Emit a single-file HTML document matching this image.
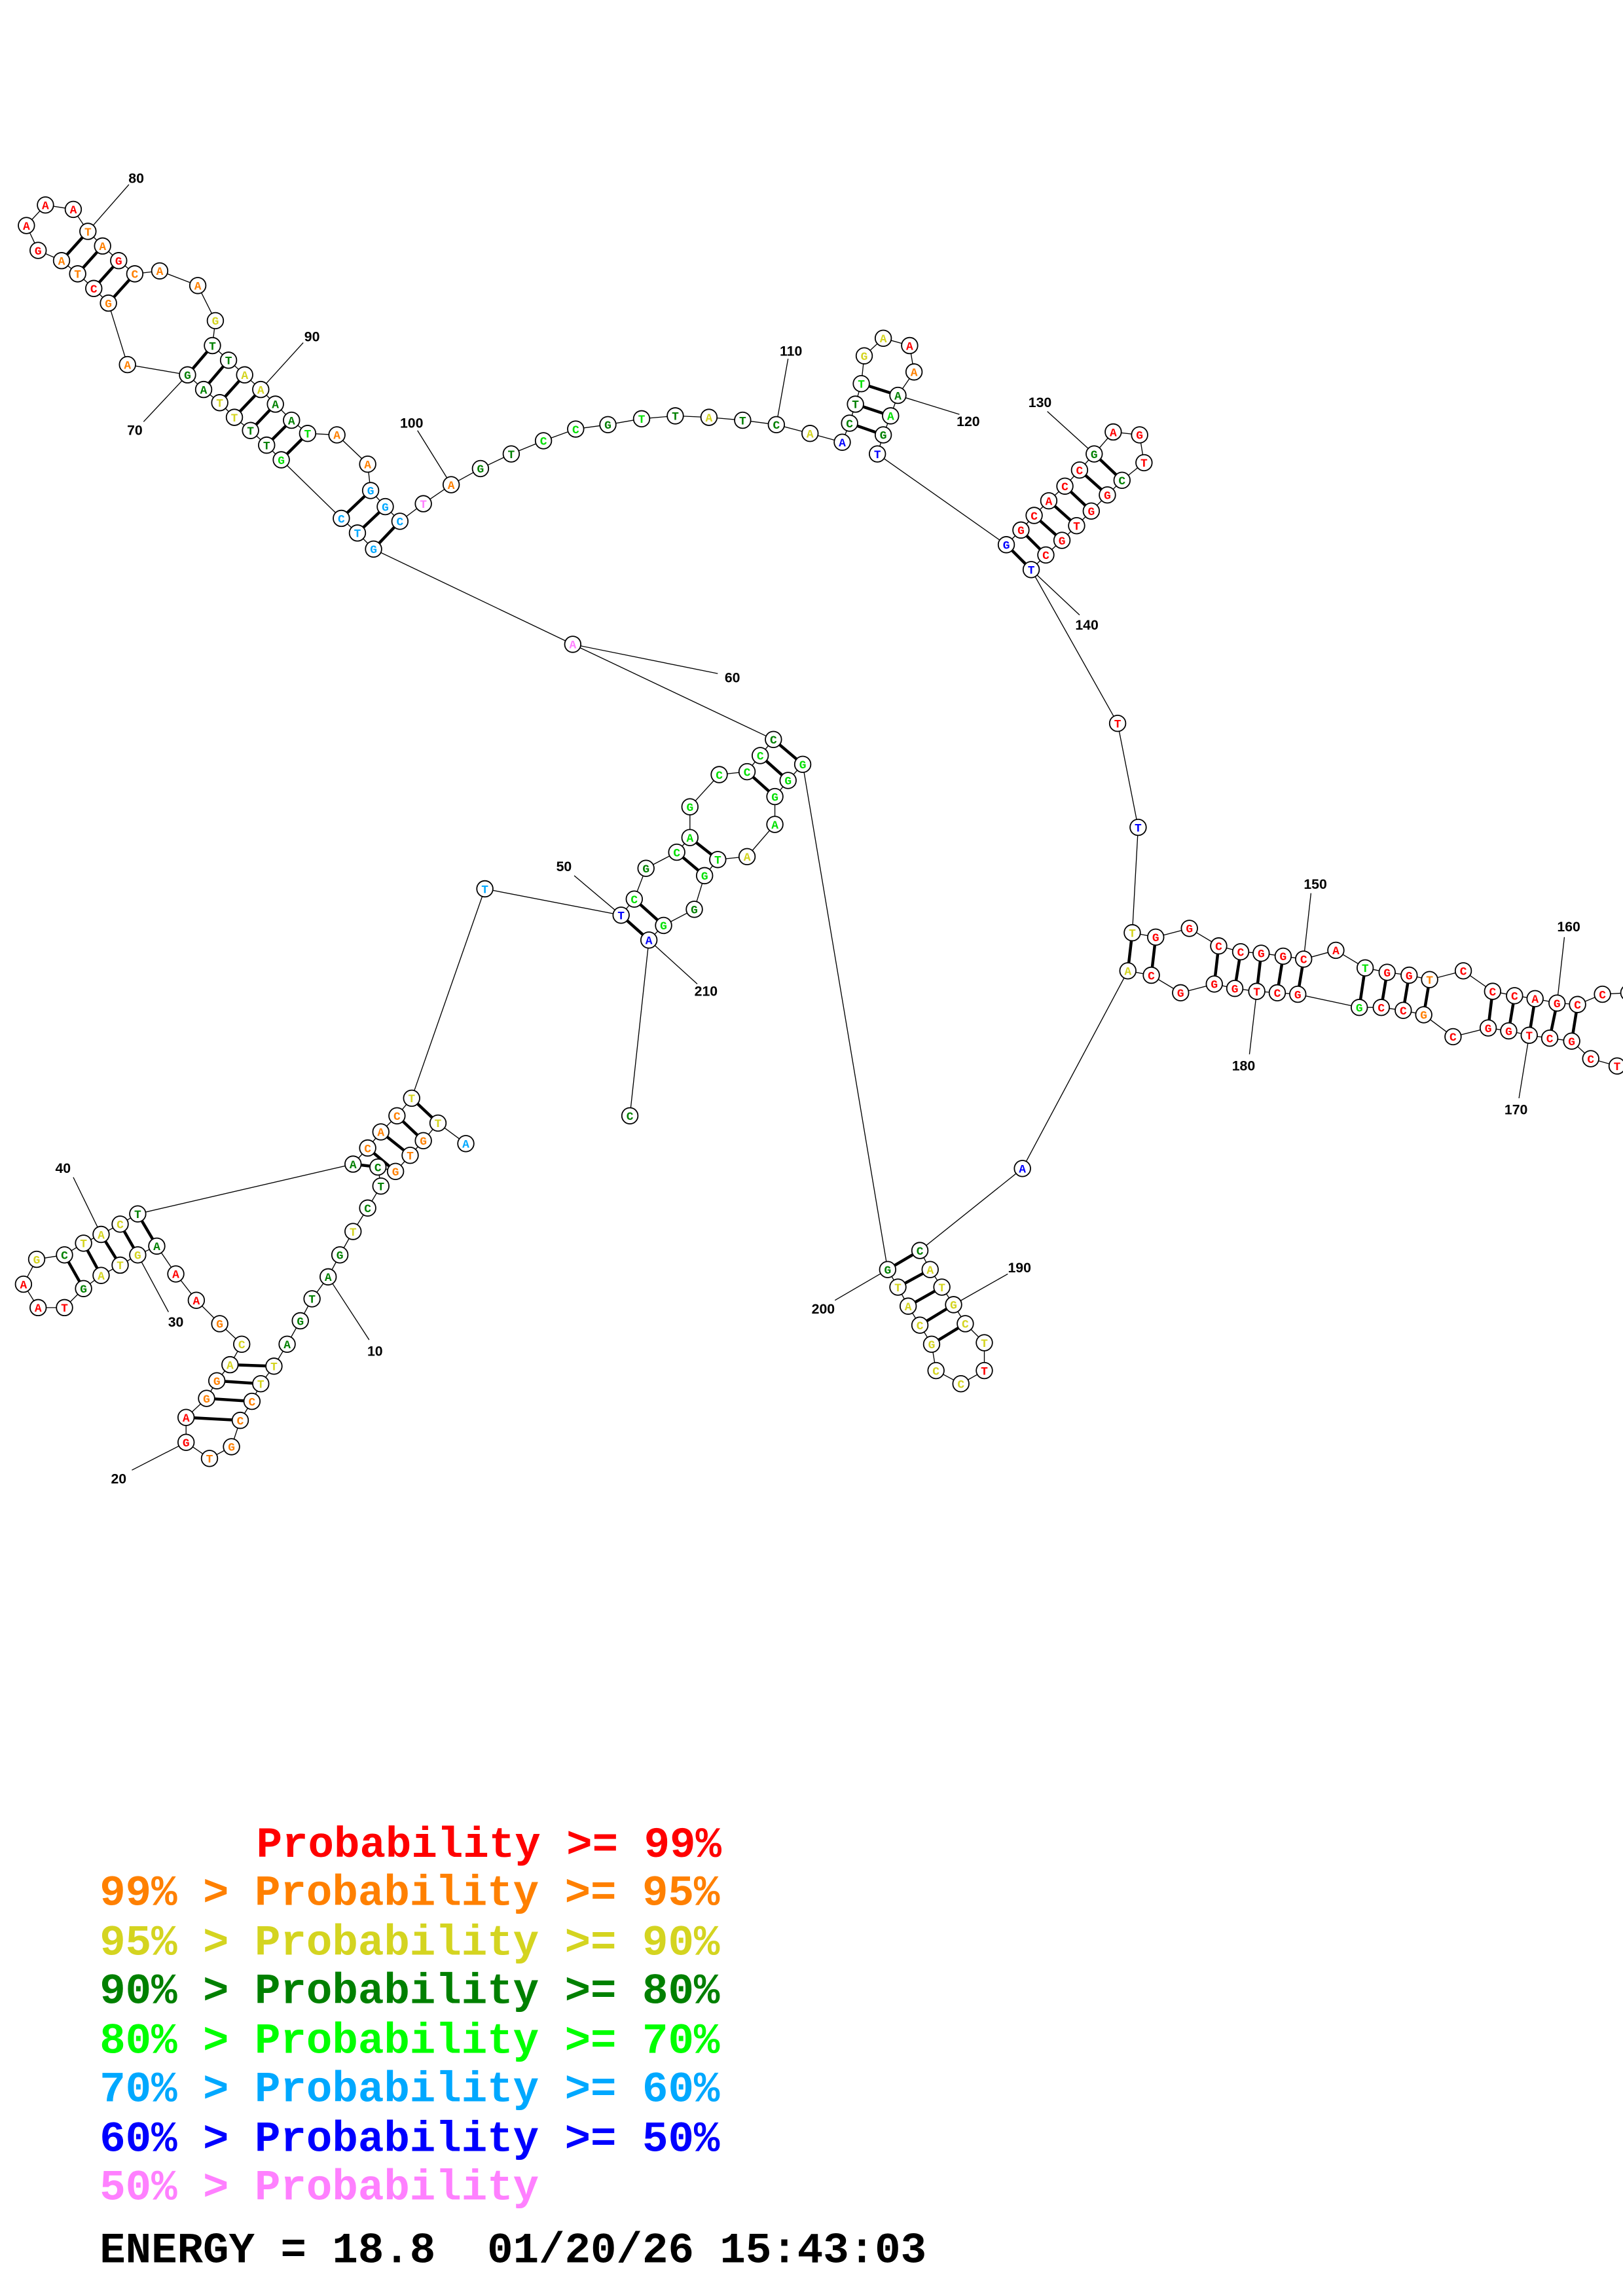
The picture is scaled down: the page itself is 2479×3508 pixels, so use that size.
<!DOCTYPE html>
<html><head><meta charset="utf-8"><style>
html,body{margin:0;padding:0;background:#fff;}
svg{display:block}
.n circle{fill:#fff;stroke:#000;stroke-width:.8}
.n text{font-family:"Liberation Mono",monospace;font-weight:bold;font-size:8px;text-anchor:middle}
.R{fill:#ff0000}.O{fill:#ff8000}.Y{fill:#d4d420}.D{fill:#008000}.L{fill:#00e000}.C{fill:#00a8ff}.B{fill:#0000ff}.P{fill:#ff80ff}
.lab{font-family:"Liberation Sans",sans-serif;font-weight:bold;font-size:9.5px;text-anchor:middle}
.lg{font-family:"Liberation Mono",monospace;font-weight:bold;font-size:29.4px}
</style></head><body>
<svg width="2479" height="3508" viewBox="0 0 1108 1568" xmlns="http://www.w3.org/2000/svg">
<rect width="1108" height="1568" fill="#fff"/>
<polyline fill="none" stroke="#000" stroke-width=".6" points="318,781 299,767 289,779 280,789 270,800 258,797 260,810 251,825 241,841 232,857 224,872 213,887 205,902 196,918 187,933 178,945 172,957 164,970 158,988 143,996 127,985 127,968 141,955 148,943 157,932 165,918 150,904 134,888 120,870 107,851 94,857 82,864 69,871 57,880 44,893 26,893 16,877 25,860 44,857 57,849 69,843 82,836 94,829 241,795 251,784 260,773 271,762 281,750 331,607 424,625 433,614 441,593 462,582 471,572 471,551 491,529 510,527 519,516 528,505 391,440 255,375 244,364 233,354 192,314 182,304 171,294 160,285 150,275 139,266 128,256 87,249 74,207 64,197 53,187 42,178 26,171 18,154 31,140 50,143 60,158 70,168 81,178 92,187 109,185 135,195 147,219 145,236 156,246 167,256 178,266 188,276 199,287 210,296 230,297 251,317 253,335 263,346 273,356 289,344 308,331 328,320 349,310 371,301 393,293 415,290 438,286 461,284 484,285 507,287 530,290 553,296 575,302 580,289 584,276 588,262 590,243 603,231 621,236 624,254 613,270 608,284 603,297 599,310 687,372 697,362 706,352 716,342 727,332 737,321 747,310 760,295 778,297 781,316 766,328 756,338 745,349 735,359 725,369 714,379 704,389 763,494 777,565 773,637 789,640 812,634 832,646 847,650 861,651 876,653 890,655 912,649 932,661 947,664 962,666 976,669 999,663 1019,677 1034,680 1048,682 1063,685 1077,686 1094,679 1112,678"/>
<polyline fill="none" stroke="#000" stroke-width=".6" points="1112,730 1104,728 1086,723 1073,711 1058,709 1044,707 1030,704 1016,702 992,708 972,693 958,690 943,688 928,688 886,679 872,678 858,677 843,675 829,672 806,678 786,666 770,663 698,798 628,854 635,867 643,879 651,891 659,904 672,917 672,936 656,945 639,936 636,918 628,905 620,892 613,879 606,867 548,522 538,533 529,544 529,563 510,585 490,587 481,598 474,621 453,632 443,642 430,762"/>
<g stroke="#000" stroke-width="2">
<path d="M60 158L42 178M70 168L53 187M81 178L64 197M92 187L74 207M145 236L128 256M156 246L139 266M167 256L150 275M178 266L160 285M188 276L171 294M199 287L182 304M210 296L192 314M253 335L233 354M263 346L244 364M273 356L255 375M580 289L603 297M584 276L608 284M588 262L613 270M687 372L704 389M697 362L714 379M706 352L725 369M716 342L735 359M727 332L745 349M737 321L756 338M747 310L766 328M773 637L770 663M789 640L786 666M832 646L829 672M847 650L843 675M861 651L858 677M876 653L872 678M890 655L886 679M932 661L928 688M947 664L943 688M962 666L958 690M976 669L972 693M1019 677L1016 702M1034 680L1030 704M1048 682L1044 707M1063 685L1058 709M1077 686L1073 711M628 854L606 867M635 867L613 879M643 879L620 892M651 891L628 905M659 904L636 918M528 505L548 522M519 516L538 533M510 527L529 544M471 572L490 587M462 582L481 598M433 614L453 632M424 625L443 642M281 750L299 767M271 762L289 779M260 773L280 789M251 784L270 800M241 795L258 797M94 829L107 851M82 836L94 857M69 843L82 864M57 849L69 871M44 857L57 880M157 932L187 933M148 943L178 945M141 955L172 957M127 968L164 970"/>
</g>
<g stroke="#000" stroke-width=".6">
<path d="M60 158L88 126M178 266L207 234M128 256L98 288M308 331L285 294M530 290L538 245M613 270L655 283M747 310L715 281M704 389L737 420M391 440L490 460M890 655L895 610M1063 685L1068 640M1044 707L1037 750M858 677L853 720M651 891L688 870M606 867L570 888M443 642L476 672M424 625L392 598M69 843L50 804M94 857L115 896M127 985L90 1004M224 872L252 915"/>
</g>
<g class="lab">
<text x="93" y="125">80</text><text x="213" y="233">90</text><text x="92" y="297">70</text><text x="281" y="292">100</text><text x="540" y="243">110</text><text x="661" y="291">120</text><text x="710" y="278">130</text><text x="742" y="430">140</text><text x="500" y="466">60</text><text x="898" y="607">150</text><text x="1071" y="636">160</text><text x="1035" y="761">170</text><text x="849" y="731">180</text><text x="696" y="869">190</text><text x="562" y="897">200</text><text x="482" y="680">210</text><text x="385" y="595">50</text><text x="43" y="801">40</text><text x="120" y="906">30</text><text x="81" y="1013">20</text><text x="256" y="926">10</text>
</g>
<g class="n">
<g transform="translate(318,781)"><circle r="5.5"/><text y="2.8" class="C">A</text></g>
<g transform="translate(299,767)"><circle r="5.5"/><text y="2.8" class="Y">T</text></g>
<g transform="translate(289,779)"><circle r="5.5"/><text y="2.8" class="O">G</text></g>
<g transform="translate(280,789)"><circle r="5.5"/><text y="2.8" class="O">T</text></g>
<g transform="translate(270,800)"><circle r="5.5"/><text y="2.8" class="O">G</text></g>
<g transform="translate(258,797)"><circle r="5.5"/><text y="2.8" class="D">C</text></g>
<g transform="translate(260,810)"><circle r="5.5"/><text y="2.8" class="D">T</text></g>
<g transform="translate(251,825)"><circle r="5.5"/><text y="2.8" class="D">C</text></g>
<g transform="translate(241,841)"><circle r="5.5"/><text y="2.8" class="Y">T</text></g>
<g transform="translate(232,857)"><circle r="5.5"/><text y="2.8" class="D">G</text></g>
<g transform="translate(224,872)"><circle r="5.5"/><text y="2.8" class="D">A</text></g>
<g transform="translate(213,887)"><circle r="5.5"/><text y="2.8" class="D">T</text></g>
<g transform="translate(205,902)"><circle r="5.5"/><text y="2.8" class="D">G</text></g>
<g transform="translate(196,918)"><circle r="5.5"/><text y="2.8" class="D">A</text></g>
<g transform="translate(187,933)"><circle r="5.5"/><text y="2.8" class="Y">T</text></g>
<g transform="translate(178,945)"><circle r="5.5"/><text y="2.8" class="Y">T</text></g>
<g transform="translate(172,957)"><circle r="5.5"/><text y="2.8" class="O">C</text></g>
<g transform="translate(164,970)"><circle r="5.5"/><text y="2.8" class="O">C</text></g>
<g transform="translate(158,988)"><circle r="5.5"/><text y="2.8" class="O">G</text></g>
<g transform="translate(143,996)"><circle r="5.5"/><text y="2.8" class="O">T</text></g>
<g transform="translate(127,985)"><circle r="5.5"/><text y="2.8" class="R">G</text></g>
<g transform="translate(127,968)"><circle r="5.5"/><text y="2.8" class="R">A</text></g>
<g transform="translate(141,955)"><circle r="5.5"/><text y="2.8" class="O">G</text></g>
<g transform="translate(148,943)"><circle r="5.5"/><text y="2.8" class="O">G</text></g>
<g transform="translate(157,932)"><circle r="5.5"/><text y="2.8" class="Y">A</text></g>
<g transform="translate(165,918)"><circle r="5.5"/><text y="2.8" class="Y">C</text></g>
<g transform="translate(150,904)"><circle r="5.5"/><text y="2.8" class="O">G</text></g>
<g transform="translate(134,888)"><circle r="5.5"/><text y="2.8" class="R">A</text></g>
<g transform="translate(120,870)"><circle r="5.5"/><text y="2.8" class="R">A</text></g>
<g transform="translate(107,851)"><circle r="5.5"/><text y="2.8" class="D">A</text></g>
<g transform="translate(94,857)"><circle r="5.5"/><text y="2.8" class="Y">G</text></g>
<g transform="translate(82,864)"><circle r="5.5"/><text y="2.8" class="Y">T</text></g>
<g transform="translate(69,871)"><circle r="5.5"/><text y="2.8" class="Y">A</text></g>
<g transform="translate(57,880)"><circle r="5.5"/><text y="2.8" class="D">G</text></g>
<g transform="translate(44,893)"><circle r="5.5"/><text y="2.8" class="R">T</text></g>
<g transform="translate(26,893)"><circle r="5.5"/><text y="2.8" class="R">A</text></g>
<g transform="translate(16,877)"><circle r="5.5"/><text y="2.8" class="R">A</text></g>
<g transform="translate(25,860)"><circle r="5.5"/><text y="2.8" class="Y">G</text></g>
<g transform="translate(44,857)"><circle r="5.5"/><text y="2.8" class="D">C</text></g>
<g transform="translate(57,849)"><circle r="5.5"/><text y="2.8" class="Y">T</text></g>
<g transform="translate(69,843)"><circle r="5.5"/><text y="2.8" class="Y">A</text></g>
<g transform="translate(82,836)"><circle r="5.5"/><text y="2.8" class="Y">C</text></g>
<g transform="translate(94,829)"><circle r="5.5"/><text y="2.8" class="D">T</text></g>
<g transform="translate(241,795)"><circle r="5.5"/><text y="2.8" class="D">A</text></g>
<g transform="translate(251,784)"><circle r="5.5"/><text y="2.8" class="O">C</text></g>
<g transform="translate(260,773)"><circle r="5.5"/><text y="2.8" class="O">A</text></g>
<g transform="translate(271,762)"><circle r="5.5"/><text y="2.8" class="O">C</text></g>
<g transform="translate(281,750)"><circle r="5.5"/><text y="2.8" class="Y">T</text></g>
<g transform="translate(331,607)"><circle r="5.5"/><text y="2.8" class="C">T</text></g>
<g transform="translate(424,625)"><circle r="5.5"/><text y="2.8" class="B">T</text></g>
<g transform="translate(433,614)"><circle r="5.5"/><text y="2.8" class="L">C</text></g>
<g transform="translate(441,593)"><circle r="5.5"/><text y="2.8" class="D">G</text></g>
<g transform="translate(462,582)"><circle r="5.5"/><text y="2.8" class="L">C</text></g>
<g transform="translate(471,572)"><circle r="5.5"/><text y="2.8" class="L">A</text></g>
<g transform="translate(471,551)"><circle r="5.5"/><text y="2.8" class="L">G</text></g>
<g transform="translate(491,529)"><circle r="5.5"/><text y="2.8" class="L">C</text></g>
<g transform="translate(510,527)"><circle r="5.5"/><text y="2.8" class="L">C</text></g>
<g transform="translate(519,516)"><circle r="5.5"/><text y="2.8" class="L">C</text></g>
<g transform="translate(528,505)"><circle r="5.5"/><text y="2.8" class="D">C</text></g>
<g transform="translate(391,440)"><circle r="5.5"/><text y="2.8" class="P">A</text></g>
<g transform="translate(255,375)"><circle r="5.5"/><text y="2.8" class="C">G</text></g>
<g transform="translate(244,364)"><circle r="5.5"/><text y="2.8" class="C">T</text></g>
<g transform="translate(233,354)"><circle r="5.5"/><text y="2.8" class="C">C</text></g>
<g transform="translate(192,314)"><circle r="5.5"/><text y="2.8" class="L">G</text></g>
<g transform="translate(182,304)"><circle r="5.5"/><text y="2.8" class="D">T</text></g>
<g transform="translate(171,294)"><circle r="5.5"/><text y="2.8" class="D">T</text></g>
<g transform="translate(160,285)"><circle r="5.5"/><text y="2.8" class="Y">T</text></g>
<g transform="translate(150,275)"><circle r="5.5"/><text y="2.8" class="Y">T</text></g>
<g transform="translate(139,266)"><circle r="5.5"/><text y="2.8" class="D">A</text></g>
<g transform="translate(128,256)"><circle r="5.5"/><text y="2.8" class="D">G</text></g>
<g transform="translate(87,249)"><circle r="5.5"/><text y="2.8" class="O">A</text></g>
<g transform="translate(74,207)"><circle r="5.5"/><text y="2.8" class="O">G</text></g>
<g transform="translate(64,197)"><circle r="5.5"/><text y="2.8" class="R">C</text></g>
<g transform="translate(53,187)"><circle r="5.5"/><text y="2.8" class="O">T</text></g>
<g transform="translate(42,178)"><circle r="5.5"/><text y="2.8" class="O">A</text></g>
<g transform="translate(26,171)"><circle r="5.5"/><text y="2.8" class="R">G</text></g>
<g transform="translate(18,154)"><circle r="5.5"/><text y="2.8" class="R">A</text></g>
<g transform="translate(31,140)"><circle r="5.5"/><text y="2.8" class="R">A</text></g>
<g transform="translate(50,143)"><circle r="5.5"/><text y="2.8" class="R">A</text></g>
<g transform="translate(60,158)"><circle r="5.5"/><text y="2.8" class="O">T</text></g>
<g transform="translate(70,168)"><circle r="5.5"/><text y="2.8" class="O">A</text></g>
<g transform="translate(81,178)"><circle r="5.5"/><text y="2.8" class="R">G</text></g>
<g transform="translate(92,187)"><circle r="5.5"/><text y="2.8" class="O">C</text></g>
<g transform="translate(109,185)"><circle r="5.5"/><text y="2.8" class="O">A</text></g>
<g transform="translate(135,195)"><circle r="5.5"/><text y="2.8" class="O">A</text></g>
<g transform="translate(147,219)"><circle r="5.5"/><text y="2.8" class="Y">G</text></g>
<g transform="translate(145,236)"><circle r="5.5"/><text y="2.8" class="D">T</text></g>
<g transform="translate(156,246)"><circle r="5.5"/><text y="2.8" class="D">T</text></g>
<g transform="translate(167,256)"><circle r="5.5"/><text y="2.8" class="Y">A</text></g>
<g transform="translate(178,266)"><circle r="5.5"/><text y="2.8" class="Y">A</text></g>
<g transform="translate(188,276)"><circle r="5.5"/><text y="2.8" class="D">A</text></g>
<g transform="translate(199,287)"><circle r="5.5"/><text y="2.8" class="D">A</text></g>
<g transform="translate(210,296)"><circle r="5.5"/><text y="2.8" class="L">T</text></g>
<g transform="translate(230,297)"><circle r="5.5"/><text y="2.8" class="O">A</text></g>
<g transform="translate(251,317)"><circle r="5.5"/><text y="2.8" class="O">A</text></g>
<g transform="translate(253,335)"><circle r="5.5"/><text y="2.8" class="C">G</text></g>
<g transform="translate(263,346)"><circle r="5.5"/><text y="2.8" class="C">G</text></g>
<g transform="translate(273,356)"><circle r="5.5"/><text y="2.8" class="C">C</text></g>
<g transform="translate(289,344)"><circle r="5.5"/><text y="2.8" class="P">T</text></g>
<g transform="translate(308,331)"><circle r="5.5"/><text y="2.8" class="O">A</text></g>
<g transform="translate(328,320)"><circle r="5.5"/><text y="2.8" class="D">G</text></g>
<g transform="translate(349,310)"><circle r="5.5"/><text y="2.8" class="D">T</text></g>
<g transform="translate(371,301)"><circle r="5.5"/><text y="2.8" class="L">C</text></g>
<g transform="translate(393,293)"><circle r="5.5"/><text y="2.8" class="L">C</text></g>
<g transform="translate(415,290)"><circle r="5.5"/><text y="2.8" class="D">G</text></g>
<g transform="translate(438,286)"><circle r="5.5"/><text y="2.8" class="L">T</text></g>
<g transform="translate(461,284)"><circle r="5.5"/><text y="2.8" class="D">T</text></g>
<g transform="translate(484,285)"><circle r="5.5"/><text y="2.8" class="Y">A</text></g>
<g transform="translate(507,287)"><circle r="5.5"/><text y="2.8" class="D">T</text></g>
<g transform="translate(530,290)"><circle r="5.5"/><text y="2.8" class="D">C</text></g>
<g transform="translate(553,296)"><circle r="5.5"/><text y="2.8" class="Y">A</text></g>
<g transform="translate(575,302)"><circle r="5.5"/><text y="2.8" class="B">A</text></g>
<g transform="translate(580,289)"><circle r="5.5"/><text y="2.8" class="D">C</text></g>
<g transform="translate(584,276)"><circle r="5.5"/><text y="2.8" class="D">T</text></g>
<g transform="translate(588,262)"><circle r="5.5"/><text y="2.8" class="L">T</text></g>
<g transform="translate(590,243)"><circle r="5.5"/><text y="2.8" class="Y">G</text></g>
<g transform="translate(603,231)"><circle r="5.5"/><text y="2.8" class="Y">A</text></g>
<g transform="translate(621,236)"><circle r="5.5"/><text y="2.8" class="R">A</text></g>
<g transform="translate(624,254)"><circle r="5.5"/><text y="2.8" class="O">A</text></g>
<g transform="translate(613,270)"><circle r="5.5"/><text y="2.8" class="D">A</text></g>
<g transform="translate(608,284)"><circle r="5.5"/><text y="2.8" class="L">A</text></g>
<g transform="translate(603,297)"><circle r="5.5"/><text y="2.8" class="D">G</text></g>
<g transform="translate(599,310)"><circle r="5.5"/><text y="2.8" class="B">T</text></g>
<g transform="translate(687,372)"><circle r="5.5"/><text y="2.8" class="B">G</text></g>
<g transform="translate(697,362)"><circle r="5.5"/><text y="2.8" class="R">G</text></g>
<g transform="translate(706,352)"><circle r="5.5"/><text y="2.8" class="R">C</text></g>
<g transform="translate(716,342)"><circle r="5.5"/><text y="2.8" class="R">A</text></g>
<g transform="translate(727,332)"><circle r="5.5"/><text y="2.8" class="R">C</text></g>
<g transform="translate(737,321)"><circle r="5.5"/><text y="2.8" class="R">C</text></g>
<g transform="translate(747,310)"><circle r="5.5"/><text y="2.8" class="D">G</text></g>
<g transform="translate(760,295)"><circle r="5.5"/><text y="2.8" class="R">A</text></g>
<g transform="translate(778,297)"><circle r="5.5"/><text y="2.8" class="R">G</text></g>
<g transform="translate(781,316)"><circle r="5.5"/><text y="2.8" class="R">T</text></g>
<g transform="translate(766,328)"><circle r="5.5"/><text y="2.8" class="D">C</text></g>
<g transform="translate(756,338)"><circle r="5.5"/><text y="2.8" class="R">G</text></g>
<g transform="translate(745,349)"><circle r="5.5"/><text y="2.8" class="R">G</text></g>
<g transform="translate(735,359)"><circle r="5.5"/><text y="2.8" class="R">T</text></g>
<g transform="translate(725,369)"><circle r="5.5"/><text y="2.8" class="R">G</text></g>
<g transform="translate(714,379)"><circle r="5.5"/><text y="2.8" class="R">C</text></g>
<g transform="translate(704,389)"><circle r="5.5"/><text y="2.8" class="B">T</text></g>
<g transform="translate(763,494)"><circle r="5.5"/><text y="2.8" class="R">T</text></g>
<g transform="translate(777,565)"><circle r="5.5"/><text y="2.8" class="B">T</text></g>
<g transform="translate(773,637)"><circle r="5.5"/><text y="2.8" class="Y">T</text></g>
<g transform="translate(789,640)"><circle r="5.5"/><text y="2.8" class="R">G</text></g>
<g transform="translate(812,634)"><circle r="5.5"/><text y="2.8" class="R">G</text></g>
<g transform="translate(832,646)"><circle r="5.5"/><text y="2.8" class="R">C</text></g>
<g transform="translate(847,650)"><circle r="5.5"/><text y="2.8" class="R">C</text></g>
<g transform="translate(861,651)"><circle r="5.5"/><text y="2.8" class="R">G</text></g>
<g transform="translate(876,653)"><circle r="5.5"/><text y="2.8" class="R">G</text></g>
<g transform="translate(890,655)"><circle r="5.5"/><text y="2.8" class="R">C</text></g>
<g transform="translate(912,649)"><circle r="5.5"/><text y="2.8" class="R">A</text></g>
<g transform="translate(932,661)"><circle r="5.5"/><text y="2.8" class="L">T</text></g>
<g transform="translate(947,664)"><circle r="5.5"/><text y="2.8" class="R">G</text></g>
<g transform="translate(962,666)"><circle r="5.5"/><text y="2.8" class="R">G</text></g>
<g transform="translate(976,669)"><circle r="5.5"/><text y="2.8" class="O">T</text></g>
<g transform="translate(999,663)"><circle r="5.5"/><text y="2.8" class="R">C</text></g>
<g transform="translate(1019,677)"><circle r="5.5"/><text y="2.8" class="R">C</text></g>
<g transform="translate(1034,680)"><circle r="5.5"/><text y="2.8" class="R">C</text></g>
<g transform="translate(1048,682)"><circle r="5.5"/><text y="2.8" class="R">A</text></g>
<g transform="translate(1063,685)"><circle r="5.5"/><text y="2.8" class="R">G</text></g>
<g transform="translate(1077,686)"><circle r="5.5"/><text y="2.8" class="R">C</text></g>
<g transform="translate(1094,679)"><circle r="5.5"/><text y="2.8" class="R">C</text></g>
<g transform="translate(1112,678)"><circle r="5.5"/><text y="2.8" class="R">C</text></g>
<g transform="translate(1104,728)"><circle r="5.5"/><text y="2.8" class="R">T</text></g>
<g transform="translate(1086,723)"><circle r="5.5"/><text y="2.8" class="R">C</text></g>
<g transform="translate(1073,711)"><circle r="5.5"/><text y="2.8" class="R">G</text></g>
<g transform="translate(1058,709)"><circle r="5.5"/><text y="2.8" class="R">C</text></g>
<g transform="translate(1044,707)"><circle r="5.5"/><text y="2.8" class="R">T</text></g>
<g transform="translate(1030,704)"><circle r="5.5"/><text y="2.8" class="R">G</text></g>
<g transform="translate(1016,702)"><circle r="5.5"/><text y="2.8" class="R">G</text></g>
<g transform="translate(992,708)"><circle r="5.5"/><text y="2.8" class="R">C</text></g>
<g transform="translate(972,693)"><circle r="5.5"/><text y="2.8" class="O">G</text></g>
<g transform="translate(958,690)"><circle r="5.5"/><text y="2.8" class="R">C</text></g>
<g transform="translate(943,688)"><circle r="5.5"/><text y="2.8" class="R">C</text></g>
<g transform="translate(928,688)"><circle r="5.5"/><text y="2.8" class="L">G</text></g>
<g transform="translate(886,679)"><circle r="5.5"/><text y="2.8" class="R">G</text></g>
<g transform="translate(872,678)"><circle r="5.5"/><text y="2.8" class="R">C</text></g>
<g transform="translate(858,677)"><circle r="5.5"/><text y="2.8" class="R">T</text></g>
<g transform="translate(843,675)"><circle r="5.5"/><text y="2.8" class="R">G</text></g>
<g transform="translate(829,672)"><circle r="5.5"/><text y="2.8" class="R">G</text></g>
<g transform="translate(806,678)"><circle r="5.5"/><text y="2.8" class="R">G</text></g>
<g transform="translate(786,666)"><circle r="5.5"/><text y="2.8" class="R">C</text></g>
<g transform="translate(770,663)"><circle r="5.5"/><text y="2.8" class="Y">A</text></g>
<g transform="translate(698,798)"><circle r="5.5"/><text y="2.8" class="B">A</text></g>
<g transform="translate(628,854)"><circle r="5.5"/><text y="2.8" class="D">C</text></g>
<g transform="translate(635,867)"><circle r="5.5"/><text y="2.8" class="Y">A</text></g>
<g transform="translate(643,879)"><circle r="5.5"/><text y="2.8" class="Y">T</text></g>
<g transform="translate(651,891)"><circle r="5.5"/><text y="2.8" class="Y">G</text></g>
<g transform="translate(659,904)"><circle r="5.5"/><text y="2.8" class="Y">C</text></g>
<g transform="translate(672,917)"><circle r="5.5"/><text y="2.8" class="Y">T</text></g>
<g transform="translate(672,936)"><circle r="5.5"/><text y="2.8" class="R">T</text></g>
<g transform="translate(656,945)"><circle r="5.5"/><text y="2.8" class="Y">C</text></g>
<g transform="translate(639,936)"><circle r="5.5"/><text y="2.8" class="Y">C</text></g>
<g transform="translate(636,918)"><circle r="5.5"/><text y="2.8" class="Y">G</text></g>
<g transform="translate(628,905)"><circle r="5.5"/><text y="2.8" class="Y">C</text></g>
<g transform="translate(620,892)"><circle r="5.5"/><text y="2.8" class="Y">A</text></g>
<g transform="translate(613,879)"><circle r="5.5"/><text y="2.8" class="Y">T</text></g>
<g transform="translate(606,867)"><circle r="5.5"/><text y="2.8" class="D">G</text></g>
<g transform="translate(548,522)"><circle r="5.5"/><text y="2.8" class="L">G</text></g>
<g transform="translate(538,533)"><circle r="5.5"/><text y="2.8" class="L">G</text></g>
<g transform="translate(529,544)"><circle r="5.5"/><text y="2.8" class="L">G</text></g>
<g transform="translate(529,563)"><circle r="5.5"/><text y="2.8" class="L">A</text></g>
<g transform="translate(510,585)"><circle r="5.5"/><text y="2.8" class="Y">A</text></g>
<g transform="translate(490,587)"><circle r="5.5"/><text y="2.8" class="L">T</text></g>
<g transform="translate(481,598)"><circle r="5.5"/><text y="2.8" class="L">G</text></g>
<g transform="translate(474,621)"><circle r="5.5"/><text y="2.8" class="D">G</text></g>
<g transform="translate(453,632)"><circle r="5.5"/><text y="2.8" class="L">G</text></g>
<g transform="translate(443,642)"><circle r="5.5"/><text y="2.8" class="B">A</text></g>
<g transform="translate(430,762)"><circle r="5.5"/><text y="2.8" class="D">C</text></g>
</g>
<g class="lg">
<text x="175" y="1268" fill="#ff0000" xml:space="preserve">Probability &gt;= 99%</text>
<text x="68" y="1301" fill="#ff8000" xml:space="preserve">99% &gt; Probability &gt;= 95%</text>
<text x="68" y="1335" fill="#d4d420" xml:space="preserve">95% &gt; Probability &gt;= 90%</text>
<text x="68" y="1368" fill="#008000" xml:space="preserve">90% &gt; Probability &gt;= 80%</text>
<text x="68" y="1402" fill="#00ff00" xml:space="preserve">80% &gt; Probability &gt;= 70%</text>
<text x="68" y="1435" fill="#00a8ff" xml:space="preserve">70% &gt; Probability &gt;= 60%</text>
<text x="68" y="1469" fill="#0000ff" xml:space="preserve">60% &gt; Probability &gt;= 50%</text>
<text x="68" y="1502" fill="#ff80ff" xml:space="preserve">50% &gt; Probability</text>
<text x="68" y="1545" fill="#000" xml:space="preserve">ENERGY = 18.8  01/20/26 15:43:03</text>
</g>
</svg>
</body></html>
